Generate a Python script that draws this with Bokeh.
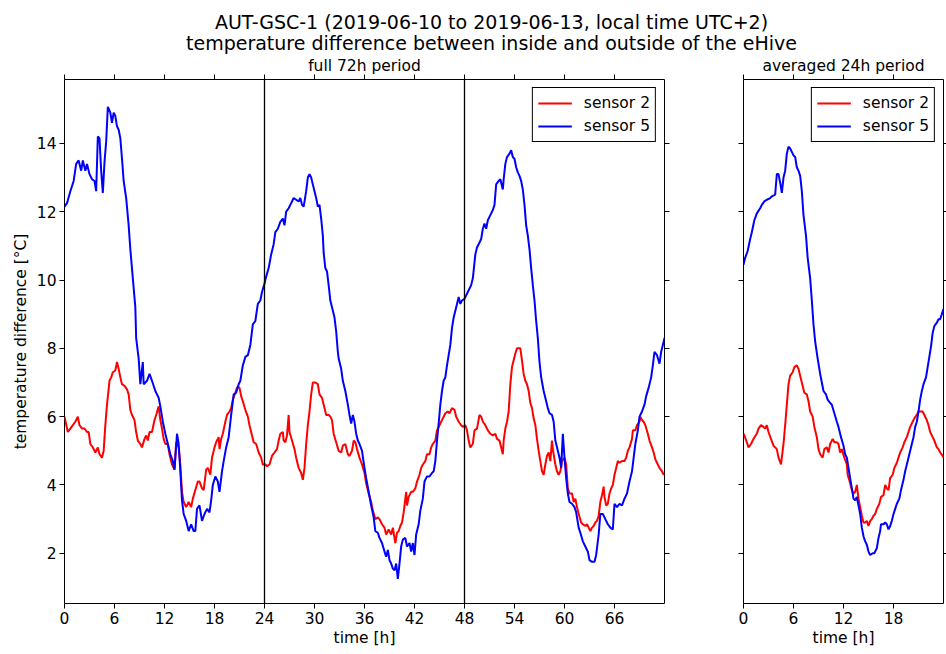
from bokeh.plotting import figure
from bokeh.models import Range1d, LinearAxis, FixedTicker, Span, Legend, LegendItem, Title
from bokeh.layouts import column, row
from bokeh.embed import file_html
from bokeh.resources import INLINE
from bokeh.core.properties import value

FONT = "DejaVu Sans"

title_line1 = "AUT-GSC-1 (2019-06-10 to 2019-06-13, local time UTC+2)"
title_line2 = "temperature difference between inside and outside of the eHive"
panel_titles = ["full 72h period", "averaged 24h period"]
x_label = "time [h]"
y_label = "temperature difference [°C]"
series_names = ["sensor 2", "sensor 5"]

x_ticks_full = [0, 6, 12, 18, 24, 30, 36, 42, 48, 54, 60, 66]
x_ticks_avg = [0, 6, 12, 18]
y_ticks = [2, 4, 6, 8, 10, 12, 14]
day_marks = [24, 48]

# full 72 h period, sensor 2: (hour, value)
full_s2 = [
    (0.0, 6.0), (0.4, 5.55), (0.7, 5.65), (1.0, 5.75), (1.3, 5.85), (1.6, 6.0), (1.8, 5.75), (2.1, 5.65),
    (2.4, 5.65), (2.7, 5.55), (2.9, 5.55), (3.1, 5.2), (3.4, 5.1), (3.7, 4.95), (4.0, 5.1), (4.2, 4.9),
    (4.5, 4.8), (4.7, 5.0), (4.9, 5.75), (5.1, 6.35), (5.4, 7.05), (5.6, 7.15), (5.8, 7.3), (6.1, 7.35),
    (6.3, 7.6), (6.5, 7.4), (6.7, 7.15), (6.9, 6.95), (7.2, 6.9), (7.5, 6.8), (7.7, 6.65), (7.9, 6.2),
    (8.1, 6.05), (8.4, 5.9), (8.6, 5.55), (8.8, 5.3), (9.1, 5.2), (9.3, 5.1), (9.6, 5.35), (9.8, 5.45),
    (10.0, 5.3), (10.2, 5.55), (10.5, 5.55), (10.8, 5.9), (11.0, 6.05), (11.3, 6.3), (11.5, 5.9), (11.7, 5.65),
    (11.9, 5.35), (12.1, 5.2), (12.4, 5.2), (12.6, 4.9), (12.9, 4.6), (13.2, 4.45), (13.4, 5.25), (13.7, 5.1),
    (13.9, 4.6), (14.1, 3.8), (14.3, 3.5), (14.6, 3.35), (14.9, 3.5), (15.2, 3.35), (15.4, 3.6), (15.7, 3.85),
    (16.0, 4.1), (16.2, 4.1), (16.5, 3.9), (16.7, 3.85), (17.0, 4.45), (17.2, 4.5), (17.5, 4.3), (17.7, 4.8),
    (18.0, 5.1), (18.2, 5.25), (18.5, 5.4), (18.6, 5.05), (18.8, 5.35), (19.0, 5.5), (19.3, 5.85), (19.5, 6.05),
    (19.8, 6.15), (20.0, 6.25), (20.2, 6.5), (20.5, 6.7), (20.7, 6.85), (21.0, 6.85), (21.2, 6.6), (21.4, 6.45),
    (21.7, 6.2), (22.0, 6.0), (22.2, 5.75), (22.5, 5.45), (22.7, 5.25), (23.0, 5.2), (23.3, 4.95), (23.6, 4.8),
    (23.8, 4.6), (24.1, 4.6), (24.3, 4.55), (24.6, 4.6), (24.9, 4.85), (25.2, 4.95), (25.5, 5.05), (25.7, 5.3),
    (25.9, 5.5), (26.2, 5.55), (26.3, 5.3), (26.5, 5.25), (26.7, 5.45), (26.9, 6.05), (27.0, 5.55), (27.3, 5.3),
    (27.6, 5.05), (27.8, 4.8), (28.1, 4.5), (28.4, 4.35), (28.6, 4.15), (28.8, 4.5), (29.0, 5.2), (29.2, 5.75),
    (29.4, 6.15), (29.6, 6.65), (29.8, 7.0), (30.1, 7.0), (30.4, 6.95), (30.6, 6.65), (30.9, 6.55), (31.2, 6.25),
    (31.4, 6.05), (31.7, 6.05), (31.9, 6.0), (32.1, 5.9), (32.3, 5.5), (32.6, 5.25), (32.9, 5.0), (33.2, 4.95),
    (33.4, 5.15), (33.7, 5.2), (34.0, 4.9), (34.2, 4.85), (34.5, 5.0), (34.7, 5.3), (34.9, 5.25), (35.1, 5.05),
    (35.4, 4.8), (35.7, 4.6), (36.0, 4.35), (36.2, 4.05), (36.5, 3.75), (36.8, 3.5), (37.0, 3.25), (37.3, 3.0),
    (37.6, 3.05), (37.8, 3.0), (38.1, 2.85), (38.4, 2.75), (38.6, 2.55), (38.9, 2.7), (39.2, 2.55), (39.4, 2.75),
    (39.7, 2.3), (39.9, 2.6), (40.1, 2.65), (40.3, 2.8), (40.5, 2.9), (40.7, 3.2), (41.0, 3.8), (41.1, 3.4),
    (41.3, 3.65), (41.6, 3.8), (41.8, 3.8), (42.1, 3.9), (42.3, 4.1), (42.6, 4.3), (42.8, 4.5), (43.0, 4.6),
    (43.3, 4.7), (43.5, 4.9), (43.8, 4.9), (44.0, 5.1), (44.2, 5.2), (44.5, 5.3), (44.7, 5.6), (45.0, 5.75),
    (45.2, 5.85), (45.4, 5.95), (45.7, 6.1), (46.0, 6.15), (46.2, 6.1), (46.5, 6.25), (46.8, 6.2), (47.0, 6.0),
    (47.3, 5.85), (47.6, 5.75), (47.8, 5.7), (48.1, 5.75), (48.3, 5.6), (48.5, 5.3), (48.7, 5.1), (49.0, 5.2),
    (49.2, 5.6), (49.5, 5.65), (49.8, 6.05), (50.0, 6.0), (50.2, 5.85), (50.5, 5.75), (50.8, 5.6), (51.1, 5.5),
    (51.4, 5.45), (51.7, 5.5), (51.9, 5.35), (52.2, 5.3), (52.4, 5.1), (52.6, 4.9), (52.7, 5.3), (52.9, 5.65),
    (53.1, 5.85), (53.3, 6.15), (53.5, 6.95), (53.7, 7.45), (53.9, 7.65), (54.1, 7.85), (54.3, 8.0), (54.5, 8.0),
    (54.7, 8.0), (54.9, 7.65), (55.1, 7.25), (55.3, 7.05), (55.5, 6.95), (55.7, 6.75), (55.9, 6.4), (56.1, 6.25),
    (56.3, 5.95), (56.5, 5.75), (56.7, 5.35), (56.9, 5.0), (57.1, 4.7), (57.3, 4.4), (57.5, 4.3), (57.7, 4.6),
    (57.9, 4.85), (58.1, 4.95), (58.3, 4.7), (58.5, 5.3), (58.6, 5.05), (58.9, 4.6), (59.1, 4.4), (59.3, 4.3),
    (59.5, 4.4), (59.7, 4.7), (60.0, 4.8), (60.2, 4.6), (60.4, 3.9), (60.6, 3.75), (60.9, 3.75), (61.1, 3.5),
    (61.3, 3.6), (61.5, 3.35), (61.7, 3.15), (62.0, 2.9), (62.2, 2.85), (62.5, 2.8), (62.7, 2.85), (62.9, 2.75),
    (63.1, 2.65), (63.3, 2.75), (63.5, 2.8), (63.7, 2.9), (63.9, 2.95), (64.1, 3.1), (64.3, 3.5), (64.5, 3.7),
    (64.7, 3.95), (64.8, 3.65), (65.0, 3.4), (65.2, 3.45), (65.4, 3.75), (65.6, 3.9), (65.8, 4.0), (66.0, 4.3),
    (66.2, 4.5), (66.4, 4.7), (66.6, 4.65), (66.9, 4.7), (67.2, 4.7), (67.4, 4.8), (67.6, 5.0), (67.8, 5.1),
    (68.1, 5.35), (68.2, 5.6), (68.5, 5.6), (68.7, 5.75), (69.0, 5.85), (69.1, 6.0), (69.3, 5.9), (69.5, 5.85),
    (69.7, 5.75), (70.0, 5.5), (70.2, 5.3), (70.5, 5.1), (70.7, 4.95), (70.9, 4.75), (71.2, 4.6), (71.4, 4.5),
    (71.7, 4.4), (71.9, 4.3), (72.0, 4.35),
]

# full 72 h period, sensor 5: (hour, value)
full_s5 = [
    (0.0, 12.15), (0.3, 12.25), (0.7, 12.6), (1.1, 12.9), (1.4, 13.4), (1.7, 13.5), (2.0, 13.2), (2.2, 13.5),
    (2.5, 13.2), (2.7, 13.4), (3.0, 13.1), (3.3, 12.95), (3.6, 12.9), (3.8, 12.6), (4.0, 14.2), (4.2, 14.15),
    (4.4, 13.2), (4.6, 12.55), (4.8, 13.45), (5.0, 14.05), (5.2, 15.07), (5.5, 14.9), (5.7, 14.6), (5.9, 14.9),
    (6.1, 14.8), (6.3, 14.5), (6.5, 14.4), (6.7, 14.15), (6.9, 13.55), (7.1, 12.9), (7.4, 12.4), (7.7, 11.6),
    (7.9, 10.9), (8.2, 10.05), (8.5, 9.2), (8.6, 8.3), (8.9, 7.7), (9.1, 6.95), (9.4, 7.6), (9.5, 6.95),
    (9.9, 7.05), (10.2, 7.25), (10.5, 7.05), (10.9, 6.75), (11.3, 6.55), (11.5, 6.3), (11.8, 5.85), (12.1, 5.5),
    (12.4, 5.2), (12.7, 4.9), (13.0, 4.7), (13.2, 4.45), (13.5, 5.5), (13.7, 5.2), (13.9, 4.4), (14.1, 3.55),
    (14.3, 3.15), (14.6, 2.95), (14.9, 2.65), (15.2, 2.85), (15.5, 2.65), (15.7, 2.65), (15.9, 3.3), (16.2, 3.4),
    (16.5, 2.95), (16.8, 3.15), (17.1, 3.3), (17.4, 3.2), (17.6, 3.55), (17.8, 4.0), (18.1, 4.25), (18.4, 4.1),
    (18.6, 3.8), (18.9, 4.4), (19.1, 4.7), (19.4, 5.1), (19.7, 5.4), (20.0, 6.05), (20.3, 6.65), (20.6, 6.7),
    (20.9, 6.95), (21.1, 7.05), (21.4, 7.5), (21.7, 7.75), (22.0, 7.8), (22.3, 8.1), (22.6, 8.7), (22.9, 8.8),
    (23.2, 9.3), (23.5, 9.4), (23.7, 9.65), (24.0, 9.9), (24.2, 10.1), (24.5, 10.35), (24.8, 10.75), (25.1, 11.05),
    (25.3, 11.4), (25.6, 11.5), (25.9, 11.7), (26.2, 11.8), (26.4, 11.6), (26.6, 12.0), (26.9, 12.1), (27.2, 12.25),
    (27.5, 12.4), (27.8, 12.35), (28.1, 12.3), (28.3, 12.4), (28.5, 12.2), (28.7, 12.15), (29.0, 12.6), (29.2, 13.0),
    (29.4, 13.1), (29.6, 13.0), (29.8, 12.8), (30.0, 12.6), (30.2, 12.4), (30.4, 12.15), (30.6, 12.2), (30.8, 11.8),
    (31.0, 11.3), (31.1, 10.8), (31.3, 10.35), (31.5, 10.25), (31.7, 9.85), (31.9, 9.4), (32.1, 9.2), (32.4, 8.9),
    (32.6, 8.5), (32.8, 7.9), (32.9, 7.7), (33.2, 7.4), (33.4, 7.05), (33.7, 6.75), (34.0, 6.35), (34.2, 6.05),
    (34.4, 5.8), (34.6, 6.05), (34.8, 5.85), (35.0, 5.5), (35.2, 5.3), (35.4, 5.2), (35.7, 5.0), (36.0, 4.5),
    (36.2, 4.2), (36.5, 3.8), (36.8, 3.4), (37.1, 3.05), (37.3, 2.65), (37.6, 2.6), (37.8, 2.45), (38.1, 2.3),
    (38.4, 2.05), (38.6, 1.9), (38.8, 2.1), (39.0, 1.8), (39.2, 1.7), (39.4, 1.55), (39.6, 1.5), (39.8, 1.7),
    (40.0, 1.25), (40.2, 1.7), (40.4, 2.2), (40.6, 2.4), (40.9, 2.45), (41.1, 2.2), (41.4, 2.3), (41.6, 2.05),
    (41.8, 2.3), (42.0, 1.95), (42.2, 2.55), (42.5, 2.85), (42.7, 3.25), (43.0, 3.6), (43.2, 4.1), (43.5, 4.25),
    (43.8, 4.25), (44.1, 4.35), (44.3, 4.4), (44.5, 4.7), (44.7, 5.3), (44.9, 5.8), (45.1, 6.35), (45.3, 6.75),
    (45.5, 7.05), (45.7, 7.15), (45.9, 7.5), (46.1, 7.8), (46.3, 8.1), (46.5, 8.6), (46.7, 8.9), (46.9, 9.1),
    (47.1, 9.3), (47.3, 9.5), (47.5, 9.3), (47.7, 9.4), (48.0, 9.45), (48.2, 9.55), (48.5, 9.7), (48.8, 9.85),
    (49.0, 10.05), (49.3, 10.75), (49.5, 10.95), (49.8, 11.1), (50.0, 11.2), (50.2, 11.5), (50.4, 11.65), (50.6, 11.5),
    (50.8, 11.75), (51.1, 11.9), (51.4, 12.05), (51.6, 12.2), (51.8, 12.8), (52.1, 12.9), (52.3, 12.95), (52.6, 12.65),
    (52.7, 12.95), (52.9, 13.4), (53.1, 13.6), (53.4, 13.7), (53.6, 13.8), (53.8, 13.6), (54.0, 13.55), (54.2, 13.3),
    (54.4, 13.15), (54.6, 13.05), (54.8, 12.9), (55.0, 12.65), (55.2, 12.2), (55.4, 11.6), (55.6, 11.3), (55.8, 10.9),
    (56.0, 10.35), (56.2, 9.85), (56.4, 9.4), (56.6, 8.8), (56.8, 8.3), (57.0, 7.6), (57.2, 7.15), (57.5, 6.75),
    (57.8, 6.45), (58.0, 6.25), (58.2, 6.1), (58.5, 6.05), (58.7, 5.85), (58.9, 5.3), (59.2, 5.0), (59.4, 4.8),
    (59.6, 4.5), (59.8, 5.5), (60.0, 4.8), (60.2, 4.2), (60.4, 3.75), (60.6, 3.5), (60.9, 3.45), (61.2, 3.35),
    (61.4, 3.2), (61.7, 2.75), (61.9, 2.6), (62.2, 2.35), (62.5, 2.2), (62.8, 2.05), (63.0, 1.8), (63.3, 1.75),
    (63.6, 1.75), (63.8, 1.95), (64.1, 2.55), (64.3, 3.15), (64.6, 3.15), (64.9, 3.0), (65.2, 2.85), (65.5, 2.75),
    (65.8, 2.7), (66.0, 3.45), (66.3, 3.35), (66.6, 3.45), (66.9, 3.4), (67.2, 3.6), (67.5, 3.75), (67.8, 4.1),
    (68.1, 4.4), (68.3, 4.8), (68.5, 5.2), (68.8, 5.6), (69.0, 6.0), (69.3, 6.15), (69.6, 6.35), (69.8, 6.6),
    (70.1, 6.85), (70.4, 7.15), (70.6, 7.5), (70.8, 7.9), (71.1, 7.8), (71.4, 7.55), (71.6, 7.9), (71.8, 8.1),
    (72.0, 8.3),
]

# averaged 24 h period, sensor 2: (hour, value)
avg_s2 = [
    (0.0, 5.5), (0.1, 5.45), (0.4, 5.25), (0.6, 5.1), (0.9, 5.2), (1.2, 5.35), (1.6, 5.5), (1.8, 5.65),
    (2.1, 5.75), (2.4, 5.7), (2.6, 5.65), (2.8, 5.75), (3.0, 5.55), (3.3, 5.35), (3.6, 5.15), (4.0, 5.05),
    (4.2, 4.8), (4.5, 4.6), (4.8, 5.2), (5.0, 5.75), (5.2, 6.35), (5.4, 6.95), (5.6, 7.2), (5.9, 7.3),
    (6.1, 7.45), (6.4, 7.5), (6.6, 7.4), (6.8, 7.2), (7.0, 7.0), (7.3, 6.7), (7.6, 6.65), (7.8, 6.45),
    (8.0, 6.15), (8.3, 6.0), (8.5, 5.7), (8.8, 5.4), (9.0, 5.05), (9.2, 4.9), (9.5, 4.8), (9.7, 5.05),
    (10.0, 5.1), (10.2, 4.95), (10.4, 5.2), (10.7, 5.35), (10.9, 5.25), (11.2, 5.25), (11.4, 5.2), (11.6, 4.95),
    (11.8, 5.05), (12.1, 4.8), (12.4, 4.6), (12.5, 4.3), (12.8, 4.05), (13.0, 3.85), (13.2, 3.75), (13.4, 3.8),
    (13.6, 4.0), (13.8, 3.6), (14.0, 3.35), (14.2, 3.1), (14.4, 2.9), (14.6, 2.9), (14.8, 2.95), (15.0, 2.8),
    (15.2, 2.95), (15.4, 3.0), (15.6, 3.1), (15.8, 3.15), (16.0, 3.3), (16.3, 3.45), (16.5, 3.65), (16.8, 3.7),
    (17.0, 4.0), (17.2, 3.9), (17.4, 3.85), (17.6, 4.2), (17.9, 4.3), (18.1, 4.5), (18.4, 4.65), (18.6, 4.8),
    (18.8, 4.95), (19.1, 5.1), (19.3, 5.25), (19.6, 5.4), (19.8, 5.55), (20.0, 5.7), (20.3, 5.85), (20.5, 5.95),
    (20.8, 6.05), (21.0, 6.15), (21.2, 6.15), (21.5, 6.15), (21.7, 6.05), (22.0, 5.9), (22.2, 5.75), (22.4, 5.55),
    (22.7, 5.4), (22.9, 5.3), (23.2, 5.1), (23.4, 5.05), (23.6, 4.95), (23.9, 4.85), (24.0, 4.8),
]

# averaged 24 h period, sensor 5: (hour, value)
avg_s5 = [
    (0.0, 10.45), (0.2, 10.65), (0.5, 10.85), (0.8, 11.2), (1.0, 11.4), (1.3, 11.75), (1.6, 11.95), (2.0, 12.1),
    (2.2, 12.2), (2.5, 12.3), (2.8, 12.35), (3.2, 12.4), (3.4, 12.45), (3.8, 12.5), (4.0, 13.1), (4.2, 13.1),
    (4.4, 12.85), (4.6, 12.55), (4.8, 13.0), (5.0, 13.2), (5.2, 13.7), (5.4, 13.9), (5.6, 13.85), (5.8, 13.75),
    (6.0, 13.65), (6.2, 13.6), (6.4, 13.3), (6.6, 13.2), (6.8, 13.05), (7.0, 12.6), (7.2, 11.9), (7.5, 11.3),
    (7.7, 10.65), (8.0, 10.05), (8.2, 9.4), (8.4, 8.7), (8.6, 8.2), (8.9, 7.7), (9.2, 7.25), (9.4, 7.0),
    (9.6, 6.75), (9.9, 6.65), (10.1, 6.5), (10.4, 6.4), (10.6, 6.35), (10.9, 6.1), (11.2, 5.85), (11.4, 5.7),
    (11.7, 5.4), (12.0, 5.15), (12.2, 4.9), (12.4, 4.8), (12.6, 4.5), (12.8, 4.2), (13.0, 3.9), (13.2, 3.6),
    (13.4, 3.55), (13.6, 3.65), (13.8, 3.4), (14.0, 3.15), (14.2, 2.75), (14.4, 2.5), (14.6, 2.35), (14.8, 2.25),
    (15.0, 2.05), (15.2, 1.95), (15.5, 2.0), (15.7, 2.0), (16.0, 2.15), (16.2, 2.45), (16.4, 2.65), (16.5, 2.85),
    (16.8, 2.85), (17.0, 2.9), (17.2, 2.85), (17.4, 2.7), (17.6, 2.8), (17.8, 2.95), (18.0, 3.15), (18.2, 3.3),
    (18.4, 3.45), (18.7, 3.6), (18.9, 3.85), (19.2, 4.15), (19.4, 4.4), (19.6, 4.6), (19.9, 4.9), (20.2, 5.2),
    (20.4, 5.4), (20.6, 5.7), (20.8, 5.85), (21.0, 6.15), (21.2, 6.5), (21.4, 6.75), (21.6, 6.95), (21.9, 7.15),
    (22.1, 7.45), (22.3, 7.75), (22.5, 8.05), (22.7, 8.45), (22.9, 8.65), (23.2, 8.75), (23.4, 8.85), (23.6, 8.85),
    (23.8, 9.0), (24.0, 9.15),
]

COLORS = ["#ff0000", "#0000ff"]
TEXT_PX = "15.5px"

y_range = Range1d(0.53, 15.87)

PANEL_H = 596
HEAD_H = 54


def style_axis(ax, ticks, tick_out=5):
    ax.ticker = FixedTicker(ticks=ticks)
    ax.major_tick_out = tick_out
    ax.major_tick_in = 0
    ax.minor_tick_out = 0
    ax.minor_tick_in = 0
    ax.major_tick_line_color = "black"
    ax.major_tick_line_width = 1
    ax.axis_line_color = None
    ax.major_label_text_font = FONT
    ax.major_label_text_color = "black"
    ax.major_label_text_font_size = TEXT_PX
    ax.axis_label_text_font = FONT
    ax.axis_label_text_font_style = "normal"
    ax.axis_label_text_color = "black"
    ax.axis_label_text_font_size = TEXT_PX


def hide_labels(ax, ticks):
    ax.major_label_overrides = {t: "" for t in ticks}
    ax.major_label_text_font_size = "0px"
    ax.major_label_standoff = 0


def make_panel(xmax, xticks, s2, s5, width, border_left, border_right, show_ylabels,
               subtitle, right_tick_out):
    p = figure(width=width, height=PANEL_H, x_range=Range1d(0, xmax), y_range=y_range,
               output_backend="svg", toolbar_location=None,
               min_border_left=border_left, min_border_right=border_right,
               min_border_top=24, min_border_bottom=47)
    p.grid.visible = False
    p.outline_line_color = "black"
    p.outline_line_width = 1
    p.background_fill_color = "white"
    p.border_fill_color = "white"

    p.title = Title(text=subtitle, align="center", text_font=FONT,
                    text_font_size=TEXT_PX, text_font_style="normal",
                    text_color="black", standoff=0, offset=0)

    xb = p.xaxis[0]
    style_axis(xb, xticks)
    xb.major_label_standoff = 3
    xb.axis_label = x_label
    xb.axis_label_standoff = 2

    yl = p.yaxis[0]
    style_axis(yl, y_ticks)
    if show_ylabels:
        yl.major_label_standoff = 3
        yl.axis_label = y_label
        yl.axis_label_standoff = 4
    else:
        hide_labels(yl, y_ticks)

    top = LinearAxis()
    style_axis(top, xticks)
    hide_labels(top, xticks)
    p.add_layout(top, "above")

    right = LinearAxis()
    style_axis(right, y_ticks, tick_out=right_tick_out)
    hide_labels(right, y_ticks)
    p.add_layout(right, "right")

    r2 = p.line([t for t, v in s2], [v for t, v in s2], line_color=COLORS[0], line_width=2)
    r5 = p.line([t for t, v in s5], [v for t, v in s5], line_color=COLORS[1], line_width=2)

    legend = Legend(items=[LegendItem(label=series_names[0], renderers=[r2]),
                           LegendItem(label=series_names[1], renderers=[r5])],
                    location="top_right")
    legend.border_line_color = "black"
    legend.border_line_width = 1
    legend.border_line_alpha = 1
    legend.background_fill_color = "white"
    legend.background_fill_alpha = 1
    legend.label_text_font = FONT
    legend.label_text_font_size = TEXT_PX
    legend.label_text_color = "black"
    legend.glyph_width = 34
    legend.glyph_height = 20
    legend.label_height = 20
    legend.spacing = 3
    legend.padding = 5
    legend.margin = 8
    legend.label_standoff = 12
    p.add_layout(legend, "center")
    return p


left = make_panel(72, x_ticks_full, full_s2, full_s5, width=704,
                  border_left=64, border_right=40, show_ylabels=True,
                  subtitle=panel_titles[0], right_tick_out=5)
for d in day_marks:
    left.add_layout(Span(location=d, dimension="height", line_color="black", line_width=1.3))

right = make_panel(24, x_ticks_avg, avg_s2, avg_s5, width=242,
                   border_left=39, border_right=3, show_ylabels=False,
                   subtitle=panel_titles[1], right_tick_out=3)

# title strip, coordinates in page pixels
head = figure(width=946, height=HEAD_H, x_range=Range1d(0, 946), y_range=Range1d(HEAD_H, 0),
              output_backend="svg", toolbar_location=None, min_border=0,
              x_axis_location=None, y_axis_location=None)
head.grid.visible = False
head.outline_line_color = None
head.text(x=[491, 491], y=[21, 42], text=[title_line1, title_line2],
          text_font=value(FONT), text_font_size="19px", text_align="center",
          text_baseline="middle", text_color="black")

layout = column(head, row(left, right, spacing=0), spacing=0)
open("out.html", "w").write(file_html(layout, INLINE))
